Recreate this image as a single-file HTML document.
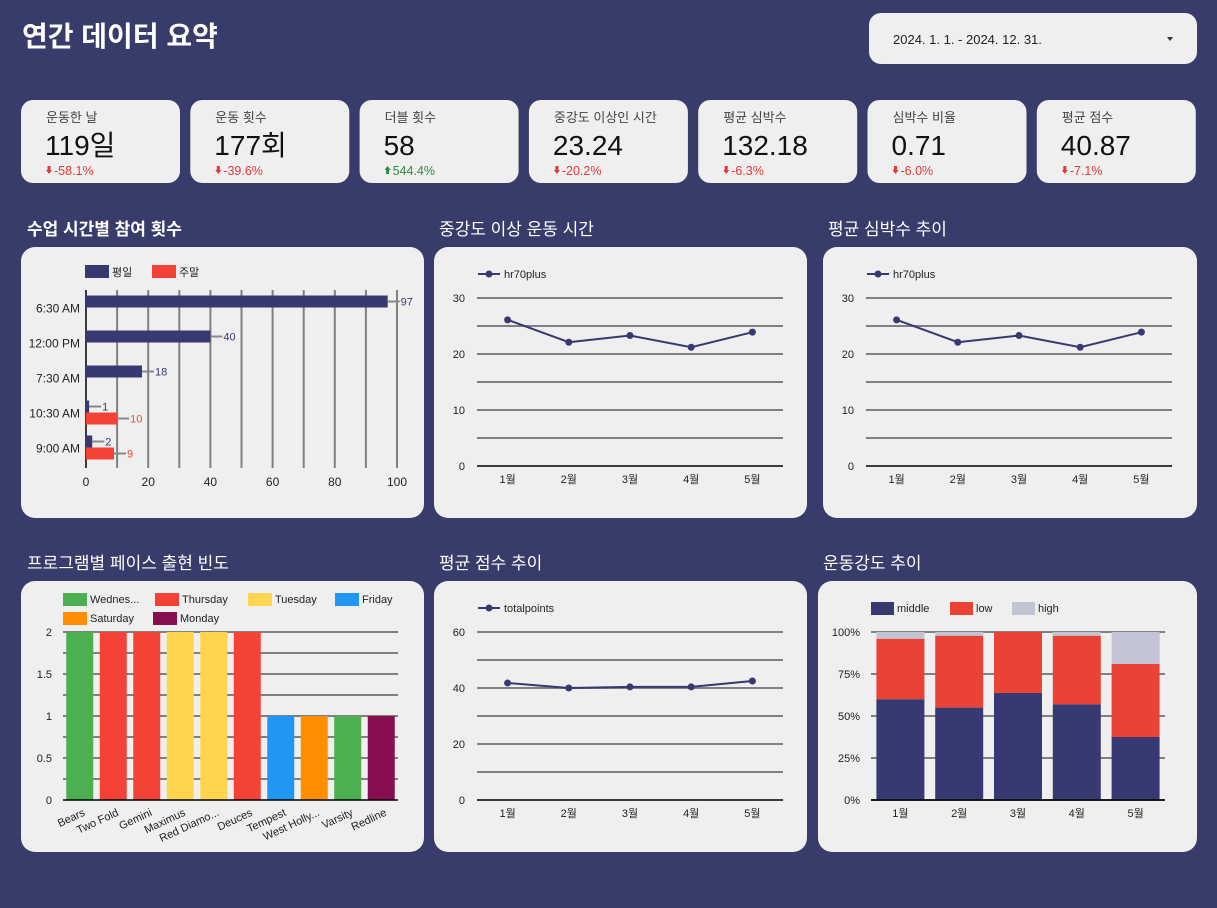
<!DOCTYPE html>
<html><head><meta charset="utf-8">
<style>
html,body{margin:0;padding:0;background:#373c6b;}
svg{display:block;font-family:"Liberation Sans","Noto Sans CJK KR",sans-serif;}
</style></head>
<body>
<svg id="root" width="1217" height="908" viewBox="0 0 1217 908" xmlns="http://www.w3.org/2000/svg">
<rect x="0" y="0" width="1217" height="908" fill="#373c6b"/>
<text x="22" y="46" font-size="28" font-weight="bold" fill="#fff">연간 데이터 요약</text>
<g>
<rect x="869" y="13" width="328" height="51" rx="12" fill="#efefef"/>
<text x="893" y="44" font-size="13" fill="#222">2024. 1. 1. - 2024. 12. 31.</text>
<path d="M1167 37 L1173 37 L1170 41 Z" fill="#333"/>
</g>
<g id="kpis"></g>
<g id="titles"></g>
<g id="c1"></g>
<g id="c2"></g>
<g id="c3"></g>
<g id="c4"></g>
<g id="c5"></g>
<g id="c6"></g>
</svg>
<script>
// ---- data ----
const kpiLabels=["운동한 날","운동 횟수","더블 횟수","중강도 이상인 시간","평균 심박수","심박수 비율","평균 점수"];
const kpiValues=["119일","177회","58","23.24","132.18","0.71","40.87"];
const kpiDeltas=["-58.1%","-39.6%","544.4%","-20.2%","-6.3%","-6.0%","-7.1%"];

const timeCats=["6:30 AM","12:00 PM","7:30 AM","10:30 AM","9:00 AM"];
const weekdayVals=[97,40,18,1,2];
const weekendVals=[null,null,null,10,9];
const hbarTicks=[0,20,40,60,80,100];

const months=["1월","2월","3월","4월","5월"];
const hr70Vals=[26.1,22.1,23.3,21.2,23.9];
const hrTicks=[0,10,20,30];
const hrRateVals=[26.1,22.1,23.3,21.2,23.9];

const programs=["Bears","Two Fold","Gemini","Maximus","Red Diamo...","Deuces","Tempest","West Holly...","Varsity","Redline"];
const programVals=[2,2,2,2,2,2,1,1,1,1];
const programDays=["Wednes...","Thursday","Thursday","Tuesday","Tuesday","Thursday","Friday","Saturday","Wednes...","Monday"];
const dayNames=["Wednes...","Thursday","Tuesday","Friday","Saturday","Monday"];
const dayColors=["#4caf50","#f44336","#ffd54f","#2196f3","#ff8f00","#880e4f"];
const progTicks=[0,0.5,1,1.5,2];

const pointVals=[41.8,40.0,40.4,40.4,42.5];
const pointTicks=[0,20,40,60];

const middleVals=[60,55,63.7,57,37.5];
const lowVals=[36,42.8,36.3,40.8,43.5];
const highVals=[4,2.2,0,2.2,19];
const pctTicks=[0,25,50,75,100];

// ---- helpers ----
const NS="http://www.w3.org/2000/svg";
function mk(parent,tag,attrs,text){const e=document.createElementNS(NS,tag);for(const k in attrs)e.setAttribute(k,attrs[k]);if(text!==undefined)e.textContent=text;parent.appendChild(e);return e;}

// KPI cards
const kp=document.getElementById('kpis');
kpiLabels.forEach((l,i)=>{
  const x=21+i*169.3;
  const g=mk(kp,'g',{});
  
  
  const r=mk(g,'rect',{x:x,y:100,width:159,height:83,rx:12,fill:'#efefef'});
  
  
  const t=mk(g,'text',{x:x+25,y:122,'font-size':13,fill:'#444'},l);
  
  
  const v=mk(g,'text',{x:x+24,y:155,'font-size':28,fill:'#111'},kpiValues[i]);
  
  
  const up=kpiDeltas[i][0]!=='-';
  const col=up?'#2e8b3e':'#e53935';
  const ar=mk(g,'path',{d:up?`M${x+25} ${170} l3 -4 l3 4 h-1.5 v4 h-3 v-4 z`:`M${x+25} ${170} l3 4 l3 -4 h-1.5 v-4 h-3 v4 z`,fill:col});
  
  
  const d=mk(g,'text',{x:x+33,y:175,'font-size':12.5,fill:col},up?kpiDeltas[i]:kpiDeltas[i]);
  
  
});

// titles
const tt=document.getElementById('titles');
[["수업 시간별 참여 횟수",27,235,'bold'],["중강도 이상 운동 시간",439,235,'normal'],["평균 심박수 추이",828,235,'normal'],
 ["프로그램별 페이스 출현 빈도",27,569,'normal'],["평균 점수 추이",439,569,'normal'],["운동강도 추이",823,569,'normal']].forEach(a=>{
  const t=mk(tt,'text',{x:a[1],y:a[2],'font-size':17,fill:'#fff','font-weight':a[3]},a[0]);
  
  
});

function card(g,x,y,w,h){const r=mk(g,'rect',{x:x,y:y,width:w,height:h,rx:14,fill:'#efefef'});
  
  }

// ---- chart 1: horizontal bars ----
(function(){
  const g=document.getElementById('c1');card(g,21,247,403,271);
  const x0=86,x1=397,top=290,bot=468,band=35,pTop=290;
  const X=v=>x0+(x1-x0)*v/100;
  for(let v=0;v<=100;v+=10){const l=mk(g,'line',{x1:X(v),x2:X(v),y1:top,y2:bot,stroke:v===0?'#000':'#808080','stroke-width':v===0?1.5:2});
    
    }
  hbarTicks.forEach(v=>{const t=mk(g,'text',{x:X(v),y:486,'font-size':12,'text-anchor':'middle',fill:'#222'},v);
    
    });
  timeCats.forEach((c,i)=>{
    const cy=pTop+band*i+17.5;
    const t=mk(g,'text',{x:80,y:cy+5,'font-size':12,'text-anchor':'end',fill:'#222'},c);
    
    
    [[weekdayVals[i],'#363a70',cy-12],[weekendVals[i],'#f44336',cy]].forEach(s=>{
      if(s[0]==null)return;
      const b=mk(g,'rect',{x:x0,y:s[2],width:X(s[0])-x0,height:12,fill:s[1]});
      
      
      const ln=mk(g,'line',{x1:X(s[0]),x2:X(s[0])+12,y1:s[2]+6,y2:s[2]+6,stroke:'#888','stroke-width':2});
      
      
      const vt=mk(g,'text',{x:X(s[0])+13,y:s[2]+10,'font-size':11,fill:s[1]},s[0]);
      
      
    });
  });
  [['평일','#363a70',85],['주말','#f44336',152]].forEach(a=>{
    const r=mk(g,'rect',{x:a[2],y:265,width:24,height:13,fill:a[1]});
    
    
    const t=mk(g,'text',{x:a[2]+27,y:276,'font-size':11,fill:'#222'},a[0]);
    
    
  });
})();

// ---- line charts ----
function lineChart(id,cx,cw,cy,ch,px0,px1,yTop,yBot,ticks,maxV,vals,legend,gridStep){
  const g=document.getElementById(id);card(g,cx,cy,cw,ch);
  const Y=v=>yBot-(yBot-yTop)*v/maxV;
  const step=(px1-px0)/months.length;
  const X=i=>px0+step*(i+0.5);
  for(let v=0;v<=maxV+1e-9;v+=gridStep){const l=mk(g,'line',{x1:px0,x2:px1,y1:Y(v),y2:Y(v),stroke:v===0?'#000':'#808080','stroke-width':v===0?1.5:2});
    
    }
  ticks.forEach(v=>{const t=mk(g,'text',{x:px0-12,y:Y(v)+4,'font-size':11,'text-anchor':'end',fill:'#222'},v);
    
    });
  months.forEach((m,i)=>{const t=mk(g,'text',{x:X(i),y:yBot+17,'font-size':11,'text-anchor':'middle',fill:'#222'},m);
    
    });
  const p=mk(g,'polyline',{points:vals.map((v,i)=>X(i)+','+Y(v)).join(' '),fill:'none',stroke:'#363a70','stroke-width':2});
  
  
  vals.forEach((v,i)=>{const c=mk(g,'circle',{cx:X(i),cy:Y(v),r:3.5,fill:'#363a70'});
    
    });
  const ly=cy+27;
  const ll=mk(g,'line',{x1:px0+1,x2:px0+23,y1:ly,y2:ly,stroke:'#363a70','stroke-width':2});
  
  
  const lc=mk(g,'circle',{cx:px0+12,cy:ly,r:3.5,fill:'#363a70'});
  
  
  const lt=mk(g,'text',{x:px0+27,y:ly+4,'font-size':11,fill:'#222'},legend);
  
  
}
lineChart('c2',434,373,247,271,477,783,298,466,hrTicks,30,hr70Vals,'hr70plus',5);
lineChart('c3',823,374,247,271,866,1172,298,466,hrTicks,30,hrRateVals,'hr70plus',5);
lineChart('c5',434,373,581,271,477,783,632,800,pointTicks,60,pointVals,'totalpoints',10);

// ---- chart 4: program bars ----
(function(){
  const g=document.getElementById('c4');card(g,21,581,403,271);
  const x0=63,x1=398,yTop=632,yBot=800;
  const Y=v=>yBot-(yBot-yTop)*v/2;
  const band=(x1-x0)/programs.length;
  for(let v=0.25;v<=2;v+=0.25){const l=mk(g,'line',{x1:x0,x2:x1,y1:Y(v),y2:Y(v),stroke:'#808080','stroke-width':2});
    
    }
  progTicks.forEach(v=>{const t=mk(g,'text',{x:52,y:Y(v)+4,'font-size':11,'text-anchor':'end',fill:'#222'},v);
    
    });
  programs.forEach((p,i)=>{
    const cx=x0+band*(i+0.5);
    const col=dayColors[dayNames.indexOf(programDays[i])];
    const b=mk(g,'rect',{x:cx-13.5,y:Y(programVals[i]),width:27,height:yBot-Y(programVals[i]),fill:col});
    
    
    const t=mk(g,'text',{x:cx+6,y:yBot+15,'font-size':11,'text-anchor':'end',fill:'#222',transform:`rotate(-25 ${cx+6} ${yBot+15})`},p);
    
    
  });
  const base=mk(g,'line',{x1:x0,x2:x1,y1:yBot,y2:yBot,stroke:'#000','stroke-width':1.5});
  
  
  const lx=[63,155,248,335,63,153],lyy=[599,599,599,599,618,618];
  dayNames.forEach((d,i)=>{
    const r=mk(g,'rect',{x:lx[i],y:lyy[i]-6,width:24,height:13,fill:dayColors[i]});
    
    
    const t=mk(g,'text',{x:lx[i]+27,y:lyy[i]+4,'font-size':11,fill:'#222'},d);
    
    
  });
})();

// ---- chart 6: stacked percent ----
(function(){
  const g=document.getElementById('c6');card(g,818,581,379,271);
  const x0=871,x1=1165,yTop=632,yBot=800;
  const Y=v=>yBot-(yBot-yTop)*v/100;
  const band=(x1-x0)/months.length;
  pctTicks.forEach(v=>{
    const l=mk(g,'line',{x1:x0,x2:x1,y1:Y(v),y2:Y(v),stroke:v===0?'#000':'#808080','stroke-width':v===0?1.5:2});
    
    
    const t=mk(g,'text',{x:860,y:Y(v)+4,'font-size':11,'text-anchor':'end',fill:'#222'},v+'%');
    
    
  });
  months.forEach((m,i)=>{
    const cx=x0+band*(i+0.5);
    let acc=0;
    [[middleVals[i],'#363a70'],[lowVals[i],'#ea4335'],[highVals[i],'#c2c4d4']].forEach(s=>{
      const b=mk(g,'rect',{x:cx-24,y:Y(acc+s[0]),width:48,height:Y(acc)-Y(acc+s[0]),fill:s[1]});
      
      
      acc+=s[0];
    });
    const t=mk(g,'text',{x:cx,y:yBot+17,'font-size':11,'text-anchor':'middle',fill:'#222'},m);
    
    
  });
  const base=mk(g,'line',{x1:x0,x2:x1,y1:yBot,y2:yBot,stroke:'#000','stroke-width':1.5});
  
  
  [['middle','#363a70',871],['low','#ea4335',950],['high','#c2c4d4',1012]].forEach(a=>{
    const r=mk(g,'rect',{x:a[2],y:602,width:23,height:13,fill:a[1]});
    
    
    const t=mk(g,'text',{x:a[2]+26,y:612,'font-size':11,fill:'#222'},a[0]);
    
    
  });
})();
</script>
</body></html>
